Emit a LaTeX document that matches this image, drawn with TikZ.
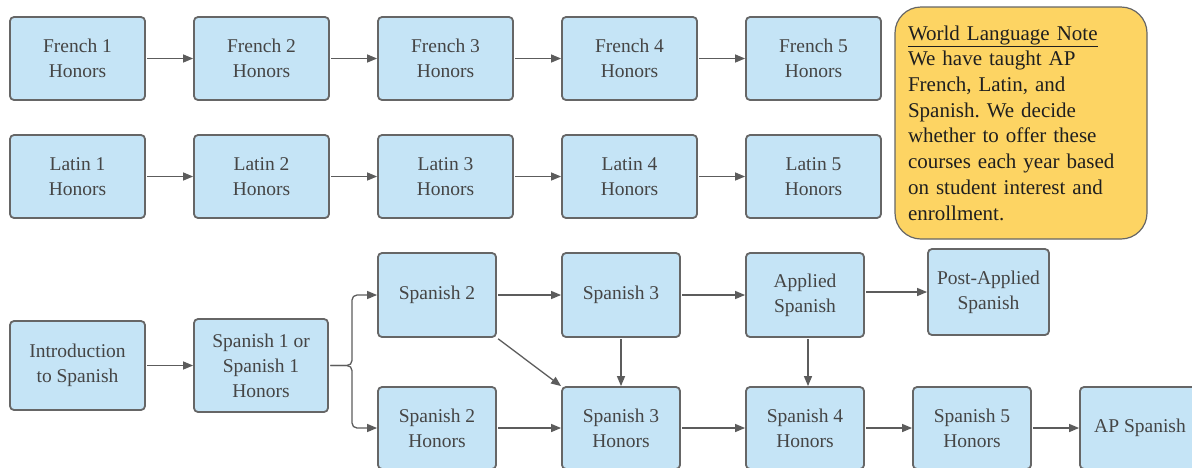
\documentclass[tikz,border=0pt]{standalone}
\usepackage{fontspec}
\setmainfont{Liberation Serif}
\usetikzlibrary{arrows.meta}
\definecolor{boxfill}{HTML}{C5E4F6}
\definecolor{boxline}{HTML}{666666}
\definecolor{boxtext}{HTML}{454545}
\definecolor{arrowcol}{HTML}{5C5C5C}
\definecolor{notefill}{HTML}{FDD463}
\frenchspacing
\tikzset{
  box/.style={draw=boxline, line width=1.8pt, fill=boxfill, rounded corners=4pt,
    text=boxtext, align=center, inner sep=2pt,
    font=\fontsize{19.5}{25}\selectfont},
  wbox/.style={box, minimum width=135pt, minimum height=83pt},
  sbox/.style={box, minimum width=118pt, minimum height=84pt},
  note/.style={draw=boxline, line width=1.2pt, fill=notefill, rounded corners=26pt,
    text=black!88, align=left, text width=226pt, minimum width=252pt, minimum height=232pt,
    inner sep=0pt, font=\fontsize{21}{25.7}\selectfont},
  arr/.style={draw=arrowcol, line width=1.3pt, -{Triangle[length=10pt,width=8pt]}, shorten <=1.5pt}
}
\begin{document}
\begin{tikzpicture}[x=1pt,y=-1pt]
\useasboundingbox (0,0) rectangle (1192,467);
\clip (0,0) rectangle (1192,467);
% French row
\node[wbox] (f1) at (77.5,58.5) {French 1\\Honors};
\node[wbox] (f2) at (261.5,58.5) {French 2\\Honors};
\node[wbox] (f3) at (445.5,58.5) {French 3\\Honors};
\node[wbox] (f4) at (629.5,58.5) {French 4\\Honors};
\node[wbox] (f5) at (813.5,58.5) {French 5\\Honors};
% Latin row
\node[wbox] (l1) at (77.5,176.5) {Latin 1\\Honors};
\node[wbox] (l2) at (261.5,176.5) {Latin 2\\Honors};
\node[wbox] (l3) at (445.5,176.5) {Latin 3\\Honors};
\node[wbox] (l4) at (629.5,176.5) {Latin 4\\Honors};
\node[wbox] (l5) at (813.5,176.5) {Latin 5\\Honors};
% Note
\node[note] (note) at (1021,123) {\underline{World Language Note}\\We have taught AP\\French, Latin, and\\Spanish. We decide\\whether to offer these\\courses each year based\\on student interest and\\enrollment.};
% Spanish
\node[box, minimum width=135pt, minimum height=89pt] (intro) at (77.5,365.5) {Introduction\\to Spanish};
\node[box, minimum width=134pt, minimum height=93pt] (s1) at (261,365.5) {Spanish 1 or\\Spanish 1\\Honors};
\node[sbox] (s2) at (437,295) {Spanish 2};
\node[sbox] (s3) at (621,295) {Spanish 3};
\node[sbox] (app) at (805,295) {Applied\\Spanish};
\node[box, minimum width=121pt, minimum height=86pt] (post) at (988.5,292) {Post-Applied\\Spanish};
\node[sbox, minimum height=82pt] (s2h) at (437,428) {Spanish 2\\Honors};
\node[sbox, minimum height=82pt] (s3h) at (621,428) {Spanish 3\\Honors};
\node[sbox, minimum height=82pt] (s4h) at (805,428) {Spanish 4\\Honors};
\node[sbox, minimum height=82pt] (s5h) at (972,428) {Spanish 5\\Honors};
\node[sbox, minimum width=120pt, minimum height=82pt] (ap) at (1140,428) {AP Spanish};
\coordinate (fork) at (352,365.5);
% arrows
\foreach \a/\b in {f1/f2,f2/f3,f3/f4,f4/f5,l1/l2,l2/l3,l3/l4,l4/l5,intro/s1,s2/s3,s3/app,s2h/s3h,s3h/s4h,s4h/s5h,s5h/ap}
  \draw[arr] (\a.east) -- (\b.west);
\draw[arr] (app.east |- post.west) -- (post.west);
\draw[arr, rounded corners=5pt] (s1.east) -- (fork) |- (s2.west);
\draw[arr, rounded corners=5pt] (s1.east) -- (fork) |- (s2h.west);
\draw[arr] (s2.south east) -- (s3h.north west);
\draw[arr] (s3.south) -- (s3h.north);
\draw[arr] ([xshift=3pt]app.south) -- ([xshift=3pt]s4h.north);
\end{tikzpicture}
\end{document}
